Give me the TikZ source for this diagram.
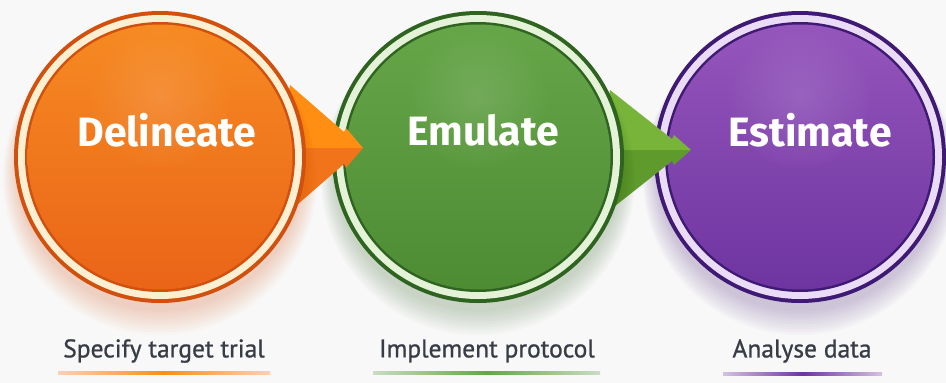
\documentclass[tikz,border=0pt]{standalone}
\usepackage{fontspec}
\setmainfont{Fira Sans}
\newfontfamily\labelfont[FakeBold=0.9]{PT Sans}
\usetikzlibrary{calc}
\definecolor{bg}{HTML}{F8F8F8}
\definecolor{oRim}{HTML}{D2500E}
\definecolor{oRing}{HTML}{FCEFD2}
\definecolor{oTop}{HTML}{F68A22}
\definecolor{oBot}{HTML}{EA6418}
\definecolor{oArrL}{HTML}{FF8E12}
\definecolor{oArrD}{HTML}{F2741A}
\definecolor{gRim}{HTML}{2F6420}
\definecolor{gRing}{HTML}{E4F2D8}
\definecolor{gTop}{HTML}{66A548}
\definecolor{gBot}{HTML}{4E8C34}
\definecolor{gArrL}{HTML}{79B43A}
\definecolor{gArrD}{HTML}{5F9A2C}
\definecolor{pRim}{HTML}{3F1A74}
\definecolor{pRing}{HTML}{EADCF6}
\definecolor{pTop}{HTML}{9556BC}
\definecolor{pBot}{HTML}{6E34A0}
\definecolor{txtgray}{HTML}{383C46}
\newcommand\mystage[5]{%
  \foreach \k in {1,...,10}{\fill[#2, opacity=0.022] ($(#1)+(0,9+\k*1.2)$) circle[radius=143pt+\k*1.4pt];}
  \fill[#2] (#1) circle[radius=146pt];
  \fill[#3] (#1) circle[radius=142pt];
  \fill[#2] (#1) circle[radius=135pt];
  \shade[top color=#4, bottom color=#5] (#1) circle[radius=132.5pt];
  \shade[inner color=white, outer color=#4, opacity=0.12] ($(#1)+(0,-60)$) circle[radius=70pt];
}
\tikzset{
  stagetext/.style={text=white, font=\bfseries\fontsize{41}{44}\selectfont, inner sep=0pt},
  steplabel/.style={text=txtgray, font=\labelfont\fontsize{25.5}{28}\selectfont, inner sep=0pt},
}
\begin{document}
\begin{tikzpicture}[x=1pt,y=-1pt]
\fill[bg] (0,0) rectangle (946,383);
\useasboundingbox (0,0) rectangle (946,383);
\coordinate (cO) at (160,157);
\coordinate (cG) at (478,157);
\coordinate (cP) at (800,157);
% purple
\mystage{cP}{pRim}{pRing}{pTop}{pBot}
% green arrow
\fill[gArrL] (610,90) -- (672,139) -- (674,135) -- (691,150) -- (600,150) -- cycle;
\fill[gArrD] (691,150) -- (674,165) -- (672,161) -- (610,210) -- (600,150) -- cycle;
% green
\mystage{cG}{gRim}{gRing}{gTop}{gBot}
% orange arrow
\fill[oArrL] (290,85) -- (344,132) -- (346,128) -- (363,148) -- (280,148) -- cycle;
\fill[oArrD] (363,148) -- (346,168) -- (344,164) -- (290,211) -- (280,148) -- cycle;
% orange
\mystage{cO}{oRim}{oRing}{oTop}{oBot}
% titles
\node[stagetext] (tO) at (167,130) {Delineate};
\node[stagetext] (tG) at (483,130) {Emulate};
\node[stagetext] (tP) at (810,130) {Estimate};
% labels
\node[steplabel] (lO) at (164,351) {Specify target trial};
\node[steplabel] (lG) at (487,351) {Implement protocol};
\node[steplabel] (lP) at (802,351) {Analyse data};
% underlines
\shade[left color=oBot!30, right color=oBot!30, middle color=oArrL] (58,371.5) rectangle (270,374.5);
\shade[left color=gBot!30, right color=gBot!30, middle color=gTop] (373,371.5) rectangle (600,374.5);
\shade[left color=pBot!30, right color=pBot!30, middle color=pBot] (723,372.5) rectangle (882,375.5);
\end{tikzpicture}
\end{document}
